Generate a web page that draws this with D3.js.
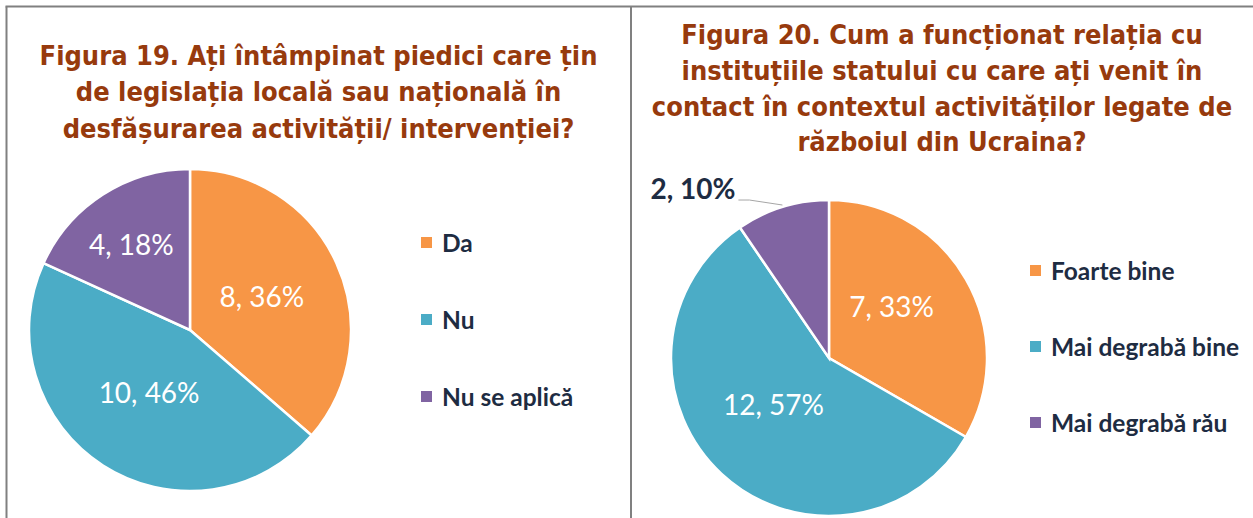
<!DOCTYPE html>
<html lang="ro">
<head>
<meta charset="UTF-8">
<title>Figura 19 / Figura 20</title>
<style>
  body { margin: 0; background: #fff; }
  .title text { font-family: "DejaVu Sans", sans-serif; font-weight: bold; fill: #973a0d; }
  .legend text { font-family: Lato, "Open Sans", sans-serif; font-weight: bold; fill: #1e2c42; font-size: 24.5px; }
  .slice path { stroke: #fff; stroke-width: 2.5px; }
  .label text { font-family: Lato, "Open Sans", sans-serif; font-size: 28px; }
  .frame line { stroke: #808080; stroke-width: 2px; }
</style>
<script src="https://d3js.org/d3.v7.min.js"></script>
</head>
<body>
<script>
// figura 19
const fig19Title = ["Figura 19. Ați întâmpinat piedici care țin", "de legislația locală sau națională în", "desfășurarea activității/ intervenției?"];
const fig19Categories = ["Da", "Nu", "Nu se aplică"];
const fig19Values = [8, 10, 4];
const fig19Percent = ["36%", "46%", "18%"];

// figura 20
const fig20Title = ["Figura 20. Cum a funcționat relația cu", "instituțiile statului cu care ați venit în", "contact în contextul activităților legate de", "războiul din Ucraina?"];
const fig20Categories = ["Foarte bine", "Mai degrabă bine", "Mai degrabă rău"];
const fig20Values = [7, 12, 2];
const fig20Percent = ["33%", "57%", "10%"];

const colors = ["#f79646", "#4bacc6", "#8064a2"];

const W = 1253, H = 518;
const svg = d3.select("body").append("svg").attr("width", W).attr("height", H);

// frame
const frame = svg.append("g").attr("class", "frame");
frame.append("line").attr("x1", 5.5).attr("x2", W).attr("y1", 6.5).attr("y2", 6.5);
frame.append("line").attr("x1", 6.5).attr("x2", 6.5).attr("y1", 6.5).attr("y2", H);
frame.append("line").attr("x1", 631).attr("x2", 631).attr("y1", 6.5).attr("y2", H);

// titles are narrower than DejaVu, squeeze horizontally so line 1 of fig 19 is ~558px
const titleSize = 27;
const probe = svg.append("g").attr("class", "title").append("text").attr("font-size", titleSize).text(fig19Title[0]);
const squeeze = 558 / probe.node().getComputedTextLength();
probe.remove();

const charts = [
  {
    title: fig19Title, titleX: 318.5, titleY: 65, lineH: 36.5,
    cats: fig19Categories, vals: fig19Values, pct: fig19Percent,
    cx: 190, cy: 330, r: 161,
    labelR: [0.49, 0.47, 0.64], labelTurn: [0, 0, -2], outside: [false, false, false],
    legendX: 421, legendY: [243, 320, 397]
  },
  {
    title: fig20Title, titleX: 942, titleY: 44, lineH: 35.8,
    cats: fig20Categories, vals: fig20Values, pct: fig20Percent,
    cx: 829, cy: 358, r: 158,
    labelR: [0.51, 0.46, 1], labelTurn: [-9, 7, 0], outside: [false, false, true],
    legendX: 1030, legendY: [271, 347, 423]
  }
];

charts.forEach(c => {
  // title
  const t = svg.append("g").attr("class", "title")
    .attr("transform", `translate(${c.titleX},0) scale(${squeeze},1)`);
  t.selectAll("text").data(c.title).join("text")
    .attr("x", 0)
    .attr("y", (d, i) => c.titleY + i * c.lineH)
    .attr("text-anchor", "middle")
    .attr("font-size", titleSize)
    .text(d => d);

  // pie
  const pie = d3.pie().sort(null).value(d => d)(c.vals);
  const arc = d3.arc().innerRadius(0).outerRadius(c.r);
  const g = svg.append("g").attr("transform", `translate(${c.cx},${c.cy})`);
  g.append("g").attr("class", "slice").selectAll("path").data(pie).join("path")
    .attr("d", arc)
    .attr("fill", (d, i) => colors[i]);

  const lab = g.append("g").attr("class", "label");
  pie.forEach((d, i) => {
    const a = (d.startAngle + d.endAngle) / 2;
    const txt = `${c.vals[i]}, ${c.pct[i]}`;
    if (!c.outside[i]) {
      const rr = c.r * c.labelR[i];
      const la = a + c.labelTurn[i] * Math.PI / 180;
      lab.append("text")
        .attr("x", rr * Math.sin(la))
        .attr("y", -rr * Math.cos(la))
        .attr("dy", "0.35em")
        .attr("text-anchor", "middle")
        .attr("fill", "#fff")
        .text(txt);
    } else {
      // label sits up-left of the slice with a leader line
      const ex = c.r * Math.sin(a), ey = -c.r * Math.cos(a);
      lab.append("polyline")
        .attr("points", [[ex, ey - 2], [ex - 33, ey - 7], [ex - 44, ey - 7]].map(p => p.join(",")).join(" "))
        .attr("fill", "none")
        .attr("stroke", "#a6a6a6")
        .attr("stroke-width", 1);
      lab.append("text")
        .attr("x", ex - 47)
        .attr("y", ey - 8)
        .attr("text-anchor", "end")
        .attr("fill", "#1e2c42")
        .attr("font-weight", "bold")
        .attr("font-size", 26)
        .text(txt);
    }
  });

  // legend
  const leg = svg.append("g").attr("class", "legend");
  const items = leg.selectAll("g").data(c.cats).join("g")
    .attr("transform", (d, i) => `translate(${c.legendX},${c.legendY[i]})`);
  items.append("rect").attr("x", 0).attr("y", -6).attr("width", 11).attr("height", 11)
    .attr("fill", (d, i) => colors[i]);
  items.append("text").attr("x", 21).attr("dy", "0.35em").text(d => d);
});
</script>
</body>
</html>
